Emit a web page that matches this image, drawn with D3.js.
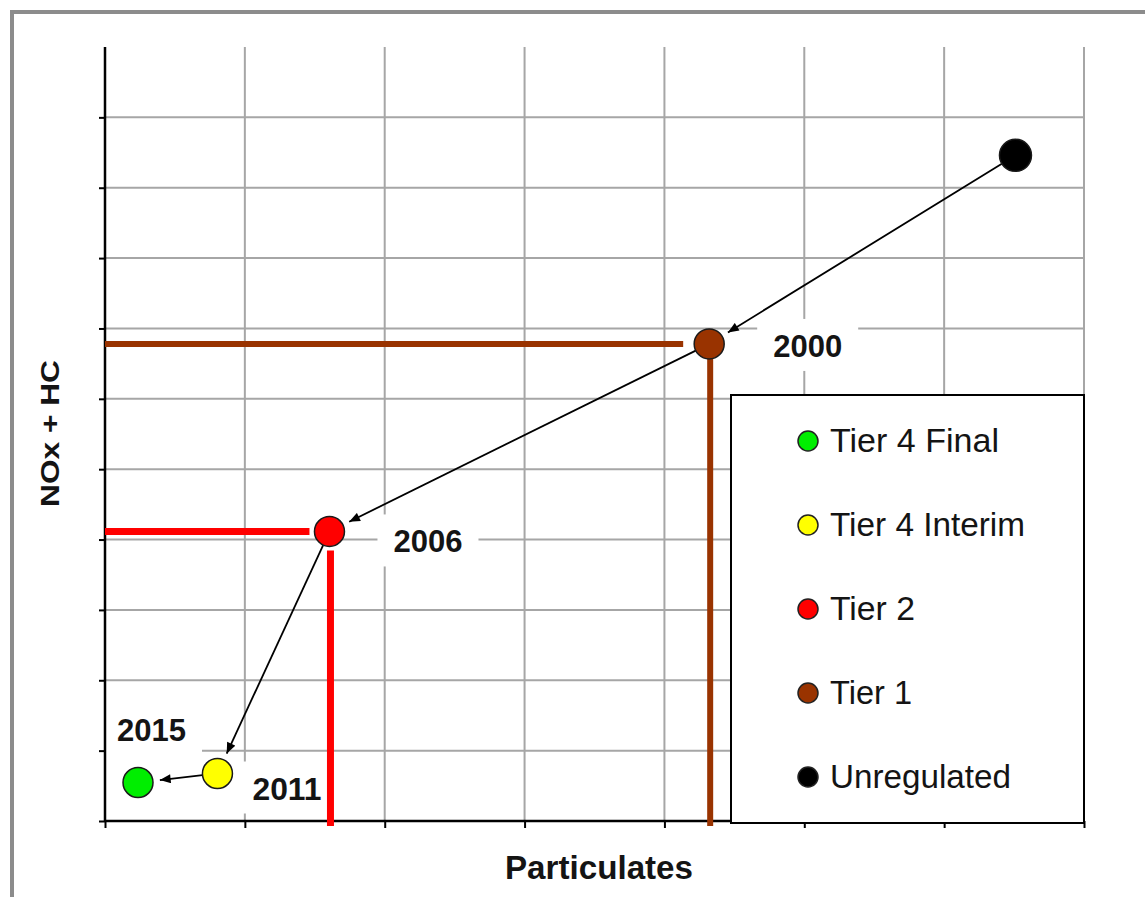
<!DOCTYPE html>
<html>
<head>
<meta charset="utf-8">
<script src="https://cdn.jsdelivr.net/npm/d3@7"></script>
<style>
  html, body { margin: 0; padding: 0; background: #fff; }
  svg { display: block; }
  text { font-family: "Liberation Sans", Arial, sans-serif; fill: #141414; }
</style>
</head>
<body>
<svg id="chart" width="1145" height="897"></svg>
<script>
// ---------------- data ----------------
const stages = ["Unregulated", "Tier 1", "Tier 2", "Tier 4 Interim", "Tier 4 Final"];
const particulates = [6.51, 4.32, 1.605, 0.804, 0.236];
const noxHc = [9.46, 6.78, 4.115, 0.675, 0.547];
const years = ["", "2000", "2006", "2011", "2015"];
const legendOrder = ["Tier 4 Final", "Tier 4 Interim", "Tier 2", "Tier 1", "Unregulated"];
const limitStages = ["Tier 1", "Tier 2"];
const xTicks = [0, 1, 2, 3, 4, 5, 6, 7];
const yTicks = [0, 1, 2, 3, 4, 5, 6, 7, 8, 9, 10];
const xLabel = "Particulates";
const yLabel = "NOx + HC";

// ---------------- styles ----------------
const colors = {
  "Unregulated": "#000000",
  "Tier 1": "#993300",
  "Tier 2": "#ff0000",
  "Tier 4 Interim": "#ffff00",
  "Tier 4 Final": "#00ee00"
};
const pointRadius = { "Unregulated": 16, "Tier 1": 15, "Tier 2": 15, "Tier 4 Interim": 15, "Tier 4 Final": 15 };
const labelOffsets = { "2000": [64, 13], "2006": [64, 21], "2011": [35, 26], "2015": [-21, -42] };
const limitWidth = { "Tier 1": 6, "Tier 2": 7 };
const limitHGap = { "Tier 1": 26, "Tier 2": 20 };
const limitVGap = { "Tier 1": 14, "Tier 2": 19 };

const svg = d3.select("#chart");
const x = d3.scaleLinear().domain([0, 7]).range([105, 1084]);
const y = d3.scaleLinear().domain([0, 11]).range([821, 47]);

// frame
svg.append("path")
  .attr("d", "M12,897 L12,12 L1145,12")
  .attr("fill", "none").attr("stroke", "#8c8c8c").attr("stroke-width", 4);

// gridlines
const grid = svg.append("g");
grid.selectAll("line.v").data(xTicks.filter(d => d > 0)).join("line")
  .attr("x1", d => x(d)).attr("x2", d => x(d))
  .attr("y1", y(11)).attr("y2", y(0))
  .attr("stroke", "#a6a6a6").attr("stroke-width", 2);
grid.selectAll("line.h").data(yTicks.filter(d => d > 0)).join("line")
  .attr("x1", x(0)).attr("x2", x(7))
  .attr("y1", d => y(d)).attr("y2", d => y(d))
  .attr("stroke", "#a6a6a6").attr("stroke-width", 2);

// year labels (white boxes first)
const pts = stages.map((s, i) => ({ stage: s, px: particulates[i], ny: noxHc[i], year: years[i] }));
const labelG = svg.append("g");
const labeled = pts.filter(p => p.year);
const lblText = labelG.selectAll("text").data(labeled).join("text")
  .attr("x", p => x(p.px) + labelOffsets[p.year][0])
  .attr("y", p => y(p.ny) + labelOffsets[p.year][1])
  .attr("font-size", 32).attr("font-weight", "bold")
  .attr("textLength", 69).attr("lengthAdjust", "spacingAndGlyphs")
  .text(p => p.year);
lblText.each(function () {
  const b = this.getBBox();
  labelG.insert("rect", "text")
    .attr("x", b.x - 16).attr("y", b.y - 9)
    .attr("width", b.width + 32).attr("height", b.height + 16)
    .attr("fill", "#fff");
});

// axes
const xAxis = d3.axisBottom(x).tickValues(xTicks).tickSize(7).tickFormat("");
const yAxis = d3.axisLeft(y).tickValues(yTicks).tickSize(6).tickFormat("");
const gx = svg.append("g").attr("transform", `translate(0,${y(0)})`).call(xAxis);
const gy = svg.append("g").attr("transform", `translate(${x(0)},0)`).call(yAxis);
[gx, gy].forEach(g => {
  g.select(".domain").attr("stroke", "#000").attr("stroke-width", 2.5);
  g.selectAll(".tick line").attr("stroke", "#000").attr("stroke-width", 2);
});
gx.select(".domain").attr("d", `M${x(0)},0H${x(7)}`);
gy.select(".domain").attr("d", `M0,${y(11)}V${y(0)}`);

// legend box
const legend = svg.append("g");
legend.append("rect")
  .attr("x", 731).attr("y", 395).attr("width", x(7) - 731).attr("height", y(0) + 2 - 395)
  .attr("fill", "#fff").attr("stroke", "#000").attr("stroke-width", 2);
const legRow = d3.scalePoint().domain(legendOrder).range([441, 777]);
legend.selectAll("circle").data(legendOrder).join("circle")
  .attr("cx", 808).attr("cy", d => legRow(d)).attr("r", 10)
  .attr("fill", d => colors[d]).attr("stroke", "#222").attr("stroke-width", 1.5);
const legendWidths = { "Tier 4 Final": 169, "Tier 4 Interim": 195, "Tier 2": 85, "Tier 1": 82, "Unregulated": 181 };
legend.selectAll("text").data(legendOrder).join("text")
  .attr("x", 830).attr("y", d => legRow(d) + 11)
  .attr("font-size", 33)
  .attr("textLength", d => legendWidths[d]).attr("lengthAdjust", "spacingAndGlyphs")
  .text(d => d);

// limit lines
const limits = pts.filter(p => limitStages.includes(p.stage));
svg.selectAll("line.limh").data(limits).join("line")
  .attr("x1", x(0)).attr("x2", p => x(p.px) - limitHGap[p.stage])
  .attr("y1", p => y(p.ny)).attr("y2", p => y(p.ny))
  .attr("stroke", p => colors[p.stage]).attr("stroke-width", p => limitWidth[p.stage]);
svg.selectAll("line.limv").data(limits).join("line")
  .attr("x1", p => x(p.px) + 1).attr("x2", p => x(p.px) + 1)
  .attr("y1", p => y(p.ny) + limitVGap[p.stage]).attr("y2", y(0) + 5)
  .attr("stroke", p => colors[p.stage]).attr("stroke-width", p => limitWidth[p.stage]);

// arrows
const defs = svg.append("defs");
defs.append("marker").attr("id", "arr")
  .attr("viewBox", "0 0 12 10").attr("refX", 12).attr("refY", 5)
  .attr("markerWidth", 12).attr("markerHeight", 9)
  .attr("markerUnits", "userSpaceOnUse").attr("orient", "auto")
  .append("path").attr("d", "M0,0 L12,5 L0,10 Z").attr("fill", "#000");
const segs = d3.pairs(pts);
svg.selectAll("line.arrow").data(segs).join("line")
  .each(function ([a, b]) {
    const ax = x(a.px), ay = y(a.ny), bx = x(b.px), by = y(b.ny);
    const L = Math.hypot(bx - ax, by - ay);
    const ux = (bx - ax) / L, uy = (by - ay) / L;
    d3.select(this)
      .attr("x1", ax + ux * pointRadius[a.stage]).attr("y1", ay + uy * pointRadius[a.stage])
      .attr("x2", bx - ux * 22).attr("y2", by - uy * 22);
  })
  .attr("stroke", "#000").attr("stroke-width", 1.8)
  .attr("marker-end", "url(#arr)");

// points
svg.selectAll("circle.pt").data(pts).join("circle")
  .attr("cx", p => x(p.px)).attr("cy", p => y(p.ny))
  .attr("r", p => pointRadius[p.stage])
  .attr("fill", p => colors[p.stage]).attr("stroke", "#1a1a1a").attr("stroke-width", 1.5);

// axis titles
svg.append("text")
  .attr("x", 505).attr("y", 879)
  .attr("font-size", 33).attr("font-weight", "bold")
  .attr("textLength", 188).attr("lengthAdjust", "spacingAndGlyphs")
  .text(xLabel);
svg.append("text")
  .attr("transform", "translate(59,507) rotate(-90)")
  .attr("x", 0).attr("y", 0)
  .attr("font-size", 25).attr("font-weight", "bold")
  .attr("textLength", 147).attr("lengthAdjust", "spacingAndGlyphs")
  .text(yLabel);
</script>
</body>
</html>
